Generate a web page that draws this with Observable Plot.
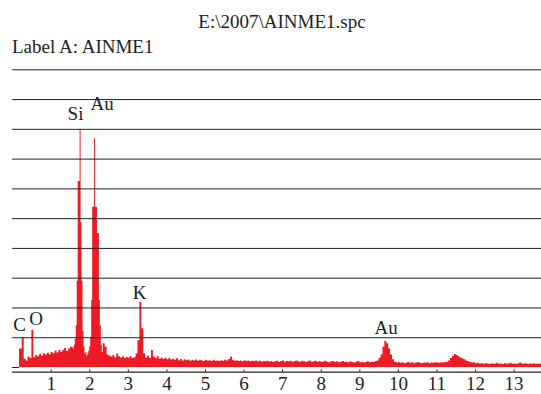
<!DOCTYPE html>
<html>
<head>
<meta charset="utf-8">
<script src="https://cdn.jsdelivr.net/npm/d3@7"></script>
<script src="https://cdn.jsdelivr.net/npm/@observablehq/plot@0.6"></script>
<style>
  html, body { margin: 0; padding: 0; background: #fff; }
  #wrap { position: relative; width: 541px; height: 394px; font-family: "Liberation Serif", "DejaVu Serif", serif; color: #222; }
  #header { position: relative; width: 541px; height: 60px; }
  .t { position: absolute; font-size: 19px; line-height: 19px; white-space: nowrap; }
  #title { left: 282px; top: 12px; transform: translateX(-50%); }
  #sub { left: 12px; top: 37px; }
  #chart svg { display: block; overflow: visible; }
</style>
</head>
<body>
<div id="wrap">
  <div id="header">
    <div class="t" id="title">E:\2007\AINME1.spc</div>
    <div class="t" id="sub">Label A: AINME1</div>
  </div>
  <div id="chart"></div>
</div>
<script>
// Low-energy region (keV) and counts (in grid units)
const energyLow = [0.18,0.25,0.30,0.35,0.40,0.45,0.50,0.55,0.60,0.65,
  0.70,0.75,0.80,0.85,0.90,0.95,1.00,1.05,1.10,1.15,
  1.20,1.25,1.30,1.35,1.40,1.45,1.50];
const countsLow = [0.62,1.00,0.28,0.22,0.35,0.30,1.24,0.33,0.40,0.36,
  0.44,0.38,0.46,0.42,0.48,0.43,0.50,0.46,0.55,0.49,
  0.57,0.51,0.58,0.64,0.54,0.62,0.68];

// Si / Au peak region, finer channels
const energyPeaks = [1.550,1.575,1.600,1.625,1.650,1.675,1.700,1.725,1.750,1.775,
  1.800,1.825,1.850,1.875,1.900,1.925,1.950,1.975,2.000,2.025,
  2.050,2.075,2.100,2.125,2.150,2.175,2.200,2.225,2.250,2.275,
  2.300,2.325];
const countsPeaks = [0.68,0.62,0.75,0.95,1.40,2.90,6.25,6.25,7.98,4.85,
  2.90,1.20,0.70,0.45,0.50,0.38,0.45,0.55,0.70,1.00,
  2.25,5.38,5.38,7.68,5.38,5.38,4.50,4.50,2.25,1.40,
  0.75,0.50];

// High-energy region
const energyHigh = [2.35,2.40,2.45,2.50,2.55,2.60,2.65,2.70,2.75,2.80,
  2.85,2.90,2.95,3.00,3.05,3.10,3.15,3.20,3.25,3.30,
  3.35,3.40,3.45,3.50,3.55,3.60,3.65,3.70,3.75,3.80,
  3.85,3.90,3.95,4.00,4.05,4.10,4.15,4.20,4.25,4.30,
  4.35,4.40,4.45,4.50,4.55,4.60,4.65,4.70,4.75,4.80,
  4.85,4.90,4.95,5.00,5.05,5.10,5.15,5.20,5.25,5.30,
  5.35,5.40,5.45,5.50,5.55,5.60,5.65,5.70,5.75,5.80,
  5.85,5.90,5.95,6.00,6.05,6.10,6.15,6.20,6.25,6.30,
  6.35,6.40,6.45,6.50,6.55,6.60,6.65,6.70,6.75,6.80,
  6.85,6.90,6.95,7.00,7.05,7.10,7.15,7.20,7.25,7.30,
  7.35,7.40,7.45,7.50,7.55,7.60,7.65,7.70,7.75,7.80,
  7.85,7.90,7.95,8.00,8.05,8.10,8.15,8.20,8.25,8.30,
  8.35,8.40,8.45,8.50,8.55,8.60,8.65,8.70,8.75,8.80,
  8.85,8.90,8.95,9.00,9.05,9.10,9.15,9.20,9.25,9.30,
  9.35,9.40,9.45,9.50,9.55,9.60,9.65,9.70,9.75,9.80,
  9.85,9.90,9.95,10.00,10.05,10.10,10.15,10.20,10.25,10.30,
  10.35,10.40,10.45,10.50,10.55,10.60,10.65,10.70,10.75,10.80,
  10.85,10.90,10.95,11.00,11.05,11.10,11.15,11.20,11.25,11.30,
  11.35,11.40,11.45,11.50,11.55,11.60,11.65,11.70,11.75,11.80,
  11.85,11.90,11.95,12.00,12.05,12.10,12.15,12.20,12.25,12.30,
  12.35,12.40,12.45,12.50,12.55,12.60,12.65,12.70,12.75,12.80,
  12.85,12.90,12.95,13.00,13.05,13.10,13.15,13.20,13.25,13.30,
  13.35,13.40,13.45,13.50,13.55,13.60,13.65,13.70,13.75];
const countsHigh = [0.80,0.68,0.42,0.38,0.35,0.40,0.33,0.45,0.36,0.32,
  0.35,0.30,0.34,0.31,0.36,0.30,0.33,0.45,0.90,2.19,
  1.30,0.45,0.32,0.38,0.30,0.57,0.35,0.30,0.36,0.28,
  0.32,0.27,0.31,0.26,0.30,0.25,0.28,0.24,0.29,0.23,
  0.27,0.22,0.26,0.23,0.25,0.21,0.24,0.22,0.25,0.21,
  0.24,0.22,0.20,0.24,0.21,0.23,0.20,0.24,0.21,0.22,
  0.20,0.23,0.21,0.24,0.22,0.27,0.35,0.24,0.21,0.23,
  0.20,0.22,0.19,0.23,0.20,0.22,0.19,0.21,0.20,0.22,
  0.19,0.21,0.18,0.20,0.19,0.21,0.18,0.20,0.17,0.20,
  0.21,0.18,0.20,0.22,0.18,0.20,0.19,0.21,0.18,0.20,
  0.22,0.19,0.18,0.21,0.19,0.17,0.20,0.22,0.18,0.19,
  0.21,0.18,0.20,0.17,0.19,0.21,0.18,0.16,0.19,0.20,
  0.17,0.19,0.16,0.18,0.20,0.17,0.18,0.16,0.19,0.17,
  0.15,0.18,0.20,0.16,0.18,0.15,0.17,0.19,0.16,0.18,
  0.17,0.20,0.22,0.30,0.42,0.68,0.87,0.80,0.62,0.42,
  0.26,0.18,0.15,0.17,0.14,0.16,0.13,0.15,0.17,0.14,
  0.16,0.13,0.15,0.17,0.14,0.13,0.15,0.14,0.16,0.13,
  0.15,0.14,0.16,0.15,0.14,0.16,0.15,0.17,0.18,0.22,
  0.30,0.38,0.44,0.40,0.36,0.32,0.29,0.26,0.22,0.19,
  0.17,0.15,0.16,0.13,0.14,0.12,0.13,0.11,0.13,0.12,
  0.10,0.13,0.11,0.12,0.14,0.11,0.12,0.10,0.13,0.11,
  0.12,0.14,0.11,0.12,0.10,0.13,0.15,0.12,0.11,0.13,
  0.10,0.12,0.11,0.13,0.10,0.12,0.11,0.12,0.12];

// Peak annotations
const peakNames = ["C", "O", "Si", "Au", "K", "Au"];
const peakLabelEnergy = [0.18, 0.61, 1.63, 2.32, 3.29, 9.68];
const peakLabelHeight = [1.21, 1.43, 8.33, 8.65, 2.31, 1.13];

// Axis ticks & gridlines
const xTicks = [1,2,3,4,5,6,7,8,9,10,11,12,13];
const gridLevels = [1,2,3,4,5,6,7,8,9,10];
const xMax = 13.71;
const yMin = -0.158;
const zeroMarkEnd = 0.18;

const spectrum = [];
[[energyLow, countsLow], [energyPeaks, countsPeaks], [energyHigh, countsHigh]].forEach(([es, cs]) => {
  es.forEach((e, i) => spectrum.push({e, c: cs[i]}));
});
const peaks = peakNames.map((name, i) => ({name, e: peakLabelEnergy[i], h: peakLabelHeight[i]}));

const red = "#ed1c24";
const ink = "#222";
const font = "'Liberation Serif', 'DejaVu Serif', serif";

const chart = Plot.plot({
  width: 541,
  height: 334,
  marginTop: 9.3,
  marginBottom: 22.3,
  marginLeft: 12.1,
  marginRight: 0,
  style: {fontFamily: font, fontSize: "19px", color: ink, background: "white", overflow: "visible"},
  x: {domain: [0, xMax]},
  y: {domain: [yMin, 10], axis: null},
  marks: [
    Plot.areaY(spectrum, {x: "e", y: "c", curve: "step-after", fill: red, clip: true}),
    Plot.ruleY(gridLevels, {stroke: ink, strokeWidth: 1}),
    Plot.ruleY([yMin], {stroke: ink, strokeWidth: 1.2}),
    Plot.ruleY([0], {x1: 0, x2: zeroMarkEnd, stroke: ink, strokeWidth: 1}),
    Plot.ruleX(xTicks, {x: d => d, y1: yMin, y2: yMin + 0.08, stroke: ink, strokeWidth: 1}),
    Plot.axisX(xTicks, {tickSize: 0, tickPadding: 4.5, fontSize: 19, fontFamily: font, fill: ink, label: null, tickFormat: d => String(d)}),
    Plot.text(peaks, {x: "e", y: "h", text: "name", lineAnchor: "bottom", textAnchor: "middle", fontSize: 19, fontFamily: font, fill: ink})
  ]
});
document.getElementById("chart").appendChild(chart);
</script>
</body>
</html>
